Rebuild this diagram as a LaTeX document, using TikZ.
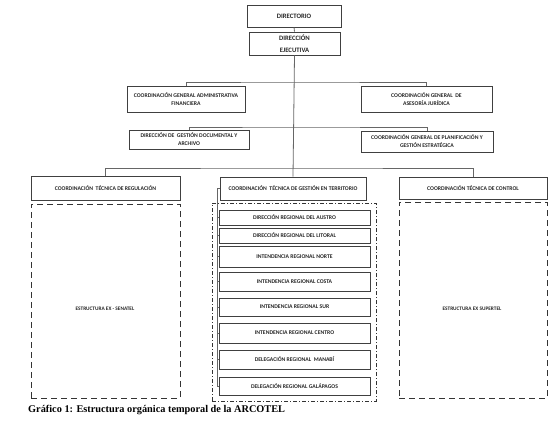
\documentclass[tikz,border=0pt]{standalone}
\usepackage{fontspec}
\setmainfont{Carlito}
\newfontfamily\capfont{Liberation Serif}
\begin{document}
\begin{tikzpicture}[x=1pt,y=-1pt,
  box/.style={draw=black!75, line width=0.8pt, fill=white, inner sep=0pt, align=center,
     font=\bfseries\fontsize{5.7}{8}\selectfont, text=black!85},
  topbox/.style={box, font=\bfseries\fontsize{6.7}{11.5}\selectfont},
  sub/.style={box, minimum width=151pt},
  conn/.style={draw=black!60, line width=0.8pt},
  dashbox/.style={draw=black!80, line width=0.8pt, dash pattern=on 6pt off 4pt, inner sep=0pt},
  dotbox/.style={draw=black!80, line width=0.7pt, dash pattern=on 4pt off 2pt on 1pt off 2pt, inner sep=0pt},
  lbl/.style={inner sep=0pt, text=black!85, font=\bfseries\fontsize{5.3}{7}\selectfont}
]
\useasboundingbox (0,0) rectangle (560,423);

% containers
\node[dashbox, minimum width=149pt, minimum height=194pt] (dl) at (105.5,301) {};
\node[dashbox, minimum width=148pt, minimum height=196pt] (dr) at (473,300) {};
\node[dotbox, minimum width=164pt, minimum height=198pt] (dm) at (294,302) {};
\node[lbl] (tsen) at (105,309) {ESTRUCTURA EX - SENATEL};
\node[lbl] (tsup) at (472,309) {ESTRUCTURA EX SUPERTEL};

% top
\node[topbox, minimum width=94pt, minimum height=22pt] (dir) at (294,16) {DIRECTORIO};
\node[topbox, minimum width=91pt, minimum height=23pt] (dej) at (294.5,43.5) {DIRECCIÓN\\EJECUTIVA};

% level 2
\node[box, minimum width=118pt, minimum height=26pt] (cga) at (186,99) {COORDINACIÓN GENERAL ADMINISTRATIVA\\FINANCIERA};
\node[box, minimum width=131pt, minimum height=26pt] (caj) at (426.5,99) {COORDINACIÓN GENERAL \ DE\\ASESORÍA JURÍDICA};
\node[box, minimum width=120pt, minimum height=19pt] (dgd) at (189,139.5) {DIRECCIÓN DE \ GESTIÓN DOCUMENTAL Y\\ARCHIVO};
\node[box, minimum width=132pt, minimum height=21pt] (cpl) at (427,141.5) {COORDINACIÓN GENERAL DE PLANIFICACIÓN Y\\GESTIÓN ESTRATÉGICA};

% level 3
\node[box, minimum width=149pt, minimum height=24pt] (ctr) at (105.5,188) {COORDINACIÓN \ TÉCNICA DE REGULACIÓN};
\node[box, minimum width=146pt, minimum height=23pt] (ctt) at (293,188.5) {COORDINACIÓN \ TÉCNICA DE GESTIÓN EN TERRITORIO};
\node[box, minimum width=148pt, minimum height=22pt] (ctc) at (473,188) {COORDINACIÓN TÉCNICA DE CONTROL};

% regional
\node[sub, minimum height=15pt] (s1) at (294.5,217.5) {DIRECCIÓN REGIONAL DEL AUSTRO};
\node[sub, minimum height=15pt] (s2) at (294.5,235.5) {DIRECCIÓN REGIONAL DEL LITORAL};
\node[sub, minimum height=21pt] (s3) at (294.5,256.5) {INTENDENCIA REGIONAL NORTE};
\node[sub, minimum height=19pt] (s4) at (294.5,281.5) {INTENDENCIA REGIONAL COSTA};
\node[sub, minimum height=18pt] (s5) at (294.5,307) {INTENDENCIA REGIONAL SUR};
\node[sub, minimum height=20pt] (s6) at (294.5,333) {INTENDENCIA REGIONAL CENTRO};
\node[sub, minimum height=19pt] (s7) at (294.5,359.5) {DELEGACIÓN REGIONAL \ MANABÍ};
\node[sub, minimum height=18pt] (s8) at (294.5,386) {DELEGACIÓN REGIONAL GALÁPAGOS};

% bus coordinates
\coordinate (b1) at (294,82);
\coordinate (b2) at (294,127);
\coordinate (b3) at (294,168);
\coordinate (trunk) at (217,0);

% connectors
\draw[conn] (dir.south) -- (dej.north);
\draw[conn] (dej.south) -- (ctt.north);
\draw[conn] (cga.north) |- (b1) -| (caj.north);
\draw[conn] (dgd.north) |- (b2) -| (cpl.north);
\draw[conn] (ctr.north) |- (b3) -| (ctc.north);
\draw[conn] (ctt.west) -- (ctt.west -| trunk) -- (s8.west -| trunk) -- (s8.west);
\foreach \s in {s1,s2,s3,s4,s5,s6,s7}
  \draw[conn] (\s.west -| trunk) -- (\s.west);

% caption
\node[anchor=west, inner sep=0pt, font=\capfont\bfseries\fontsize{10.3}{12}\selectfont] (cap) at (28,410.5) {Gráfico 1: Estructura orgánica temporal de la ARCOTEL};
\end{tikzpicture}
\end{document}
